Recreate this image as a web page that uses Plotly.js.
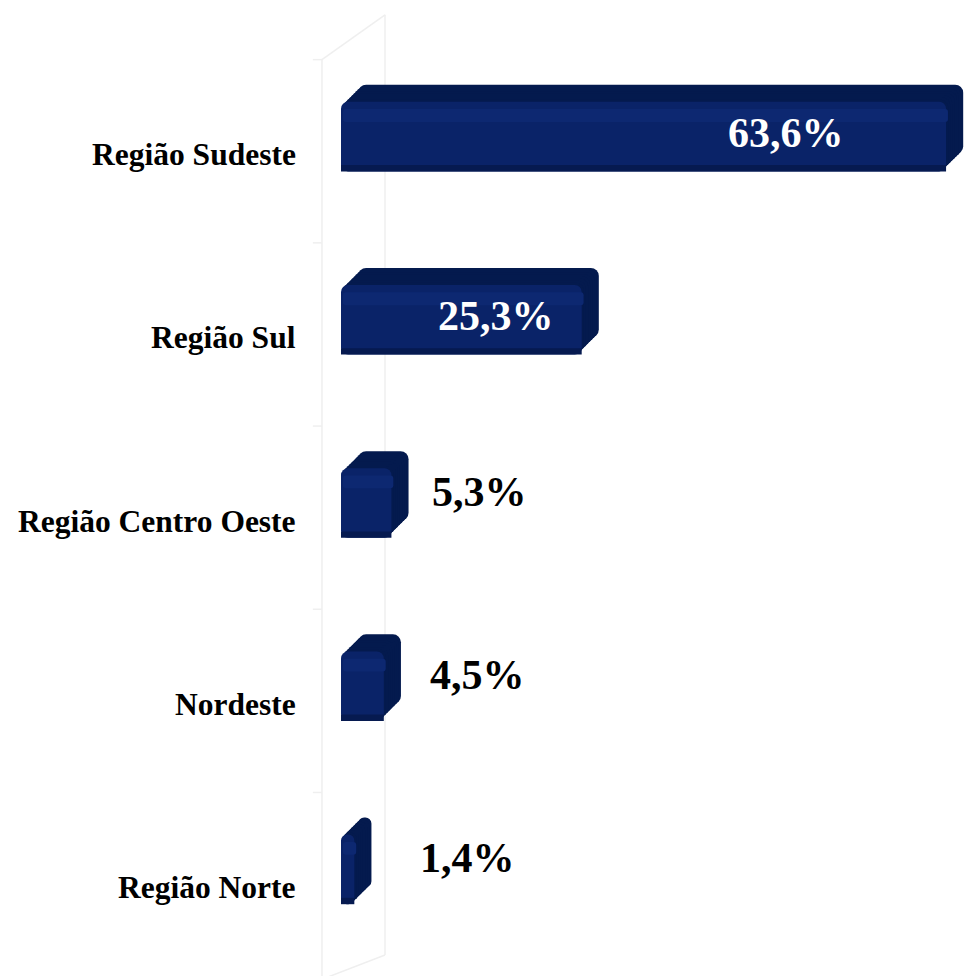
<!DOCTYPE html>
<html>
<head>
<meta charset="utf-8">
<script src="https://cdn.plot.ly/plotly-3.0.1.min.js"></script>
<style>html,body{margin:0;padding:0;background:#fff;}#chart{width:967px;height:976px;}</style>
</head>
<body>
<div id="chart"></div>
<script>
const categories = ["Região Sudeste", "Região Sul", "Região Centro Oeste", "Nordeste", "Região Norte"];
const values = [63.6, 25.3, 5.3, 4.5, 1.4];
const valueLabels = ["63,6%", "25,3%", "5,3%", "4,5%", "1,4%"];
const labelInside = [true, true, false, false, false];
const labelShift = [-100, -26, 39, 44, 64];

const FONT = "Liberation Serif, Times New Roman, serif";
const depth = 1.8;       // extrusion along x (data units)
const lift = 0.093;      // extrusion along y (category units)
const barW = 0.38;
const steps = 8;

const traces = [];
for (let s = 0; s <= steps; s++) {
  const t = s / steps;               // 0 = back face, 1 = front face
  const isFront = s === steps;
  traces.push({
    type: "bar", orientation: "h", y: categories, x: values,
    base: depth * (1 - t),
    width: barW, offset: -barW / 2 - lift * (1 - t),
    marker: {color: isFront ? "#0a2368" : "#041a4e", cornerradius: isFront ? 7 : 8, line: {width: 0}},
    hoverinfo: "skip", showlegend: false
  });
}
// soft highlight band on the front face
traces.push({
  type: "bar", orientation: "h", y: categories, x: values, base: 0.2,
  width: 0.07, offset: -0.15,
  marker: {color: "#0d2871", cornerradius: 3, line: {width: 0}},
  hoverinfo: "skip", showlegend: false
});
// darker bottom edge of the front face
traces.push({
  type: "bar", orientation: "h", y: categories, x: values,
  width: 0.035, offset: 0.155,
  marker: {color: "#061a50", line: {width: 0}},
  hoverinfo: "skip", showlegend: false
});

const annotations = [];
categories.forEach((c, i) => {
  annotations.push({
    xref: "paper", yref: "y", x: -0.069, y: c, yshift: -18,
    xanchor: "right", yanchor: "middle", showarrow: false,
    text: "<b>" + c + "</b>", font: {family: FONT, size: 31.5, color: "#000"}
  });
  annotations.push({
    xref: "x", yref: "y", x: values[i], y: c,
    xanchor: labelInside[i] ? "right" : "left",
    xshift: labelShift[i],
    yshift: labelInside[i] ? 4 : 11,
    yanchor: "middle", showarrow: false,
    text: "<b>" + valueLabels[i] + "</b>",
    font: {family: FONT, size: 42, color: labelInside[i] ? "#ffffff" : "#000000"}
  });
});

const wallColor = "#efefef";
const wl = {color: wallColor, width: 1.5};
const shapes = [
  {type: "line", layer: "below", xref: "paper", yref: "paper", x0: -0.0304, x1: -0.0304, y0: 0.984, y1: -0.02, line: wl},
  {type: "line", layer: "below", xref: "paper", yref: "paper", x0: 0.0703, x1: 0.0703, y0: 1.033, y1: 0.0066, line: wl},
  {type: "line", layer: "below", xref: "paper", yref: "paper", x0: -0.0304, x1: 0.0703, y0: 0.984, y1: 1.033, line: wl},
  {type: "line", layer: "below", xref: "paper", yref: "paper", x0: -0.0304, x1: 0.0703, y0: -0.02, y1: 0.0066, line: wl},
  {type: "line", layer: "below", xref: "paper", yref: "paper", x0: -0.045, x1: -0.0304, y0: 0.984, y1: 0.984, line: wl}
];
for (let k = 0; k < categories.length - 1; k++) {
  shapes.push({type: "line", layer: "below", xref: "paper", yref: "y", x0: -0.045, x1: -0.0304, y0: k + 0.58, y1: k + 0.58, line: wl});
}

const layout = {
  width: 967, height: 976,
  margin: {l: 341, r: 0, t: 45, b: 15},
  paper_bgcolor: "#ffffff", plot_bgcolor: "rgba(0,0,0,0)",
  barmode: "overlay",
  xaxis: {range: [0, 65.8], visible: false, fixedrange: true},
  yaxis: {type: "category", autorange: "reversed", showticklabels: false, showgrid: false, zeroline: false, showline: false, ticks: "", fixedrange: true},
  shapes: shapes,
  annotations: annotations,
  showlegend: false
};

Plotly.newPlot("chart", traces, layout, {displayModeBar: false, staticPlot: true});
</script>
</body>
</html>
